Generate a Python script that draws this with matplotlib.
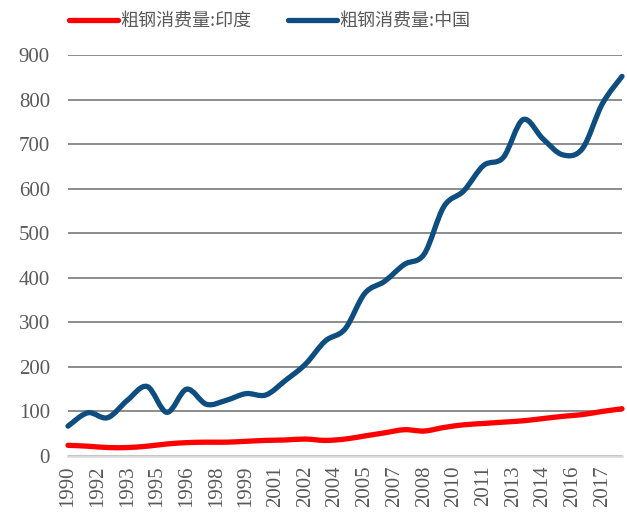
import numpy as np
import matplotlib
matplotlib.use("Agg")
import matplotlib.pyplot as plt
from matplotlib.path import Path
from matplotlib.patches import PathPatch
from matplotlib.lines import Line2D

# crude steel consumption, Mt
years = list(range(1990, 2019))
china = [67, 97, 86, 125, 156, 98, 150, 116, 125, 140,
         137, 170, 206, 258, 285, 365, 392, 430, 453, 560,
         595, 652, 670, 755, 712, 676, 690, 790, 852]
india = [24, 22, 19, 19, 22, 27, 30, 31, 31, 33,
         35, 36, 38, 35, 38, 45, 52, 59, 56, 64,
         70, 73, 76, 79, 84, 89, 93, 100, 106]

tick_pos = [1990 + 1.5 * k for k in range(19)]
tick_labels = ["1990", "1992", "1993", "1995", "1996", "1998", "1999", "2001",
               "2002", "2004", "2005", "2007", "2008", "2010", "2011", "2013",
               "2014", "2016", "2017"]
labels = ["粗钢消费量:印度", "粗钢消费量:中国"]
colors = ["#ff0000", "#0e4d7f"]


def smooth_path(x, y):
    # Excel-style smoothed line: Catmull-Rom segments as cubic Beziers
    p = np.column_stack([x, y]).astype(float)
    ext = np.vstack([p[0], p, p[-1]])
    verts = [p[0]]
    codes = [Path.MOVETO]
    for i in range(len(p) - 1):
        p0, p1, p2, p3 = ext[i], ext[i + 1], ext[i + 2], ext[i + 3]
        verts += [p1 + (p2 - p0) / 6, p2 - (p3 - p1) / 6, p2]
        codes += [Path.CURVE4] * 3
    return Path(verts, codes)


fig = plt.figure(figsize=(6.27, 5.19), dpi=100)
ax = fig.add_axes([68 / 627, 63 / 519, 554 / 627, 401 / 519])

for series, c in zip([india, china], colors):
    patch = PathPatch(smooth_path(years, series), fill=False, edgecolor=c,
                      lw=3.8, capstyle="round", joinstyle="round",
                      clip_on=False, zorder=3)
    ax.add_patch(patch)

ax.set_xlim(1990, 2018)
ax.set_ylim(0, 900)
ax.set_yticks(range(0, 901, 100))
ax.set_xticks(tick_pos)
ax.set_xticklabels(tick_labels, rotation=90)

for lab in ax.get_xticklabels() + ax.get_yticklabels():
    lab.set_fontfamily("Liberation Serif")
    lab.set_fontsize(15)
    lab.set_color("#595959")
ax.tick_params(axis="both", length=0)
ax.tick_params(axis="y", pad=13)
ax.tick_params(axis="x", pad=7)

ax.set_axisbelow(True)
ax.yaxis.grid(True, color="#8c8c8c", lw=1.4)
for s in ["left", "right", "top"]:
    ax.spines[s].set_visible(False)
ax.spines["bottom"].set_color("#d9d9d9")
ax.spines["bottom"].set_linewidth(1.8)

handles = [Line2D([], [], color=c, lw=3.8, solid_capstyle="round") for c in colors]
fig.legend(handles, labels, loc="upper left", bbox_to_anchor=(62 / 627, 1 - 5 / 519),
           ncol=2, frameon=False, handlelength=2.7, handletextpad=0.15,
           columnspacing=2.0, borderaxespad=0,
           prop={"family": ["Noto Sans CJK SC", "DejaVu Sans"], "size": 13},
           labelcolor="#595959")

fig.savefig("out.png", dpi=100)
